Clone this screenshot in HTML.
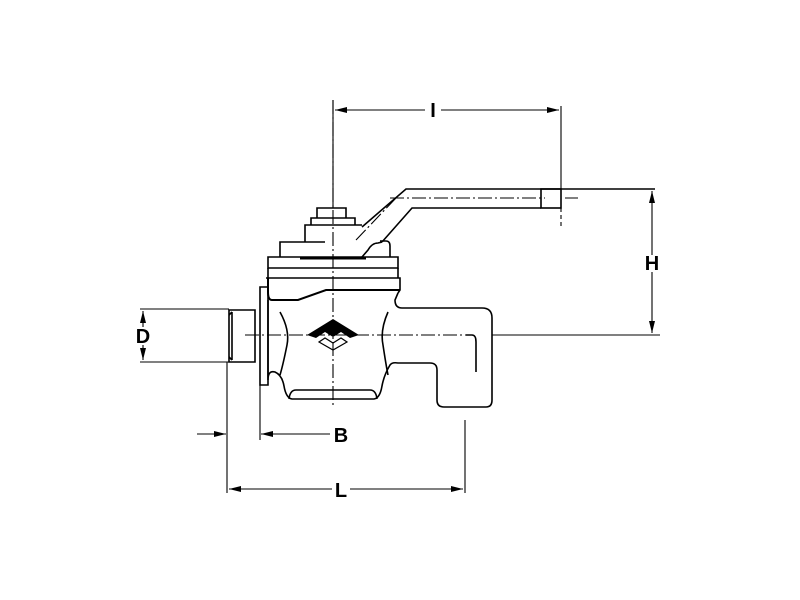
<!DOCTYPE html>
<html><head><style>body{margin:0;background:#fff}svg{display:block}</style></head><body>
<svg width="800" height="600" viewBox="0 0 800 600" xmlns="http://www.w3.org/2000/svg" font-family="Liberation Sans, sans-serif" font-weight="bold">
<defs>
<marker id="a" markerWidth="12" markerHeight="8" refX="12" refY="4" orient="auto" markerUnits="userSpaceOnUse"><path d="M0,1 L12,4 L0,7 Z" fill="#000"/></marker>
</defs>
<g fill="none" stroke="#000" stroke-width="1.6">
<path d="M333,100 V405" stroke-dasharray="14,3,2,3" stroke-width="1.1"/>
<path d="M245,335 H466" stroke-dasharray="14,3,2,3" stroke-width="1.1"/>
<path d="M390,198 L545,198 M565,198 H578" stroke-dasharray="14,3,2,3" stroke-width="1.1"/>
<path d="M396,198 L356,240" stroke-dasharray="14,3,2,3" stroke-width="1.1"/>
<path d="M317,218 V208 H346 V218"/>
<path d="M311,225 V218 H355 V225"/>
<path d="M305,242 V225 H362"/>
<path d="M280,257 V242 H325"/>
<path d="M362,227 L406,189 H655"/>
<path d="M382,242 L412,208 H541"/>
<rect x="541" y="189" width="20" height="19"/>
<path d="M362,257 L368,250 Q372,243 378,243 L382,242"/>
<path d="M380,241 H386 Q390,241 390,246 V257"/>
<path d="M268,257 H398 V268 H268 Z"/>
<path d="M300,258 H366" stroke-width="3"/>
<path d="M268,268 V278 M398,268 V278"/>
<path d="M266,278 H400 V290 L398,293"/>
<path d="M268,278 V292 Q268,300 272,300 L298,300 L326,290 H400" stroke-width="2"/>
<path d="M268,300 V380 Q268,370 275,372 Q282,375 284,386 Q286,398 292,399 L374,399 Q380,398 382,386 Q384,375 390,365 Q392,362 398,363 H430 Q437,363 437,370 V400 Q437,407 444,407 H486 Q492,407 492,400 V318 Q492,308 482,308 H402 Q395,308 395,300 L398,293"/>
<path d="M289,399 Q290,390 296,390 H370 Q376,390 377,399"/>
<path d="M280,312 Q290,330 287,345 Q283,365 280,375"/>
<path d="M388,312 Q380,330 383,345 Q386,365 388,375"/>
<path d="M466,335 H472 Q476,335 476,342 V372"/>
<path d="M260,287 H268 V385 H260 Z"/>
<path d="M229,310 H255 V362 H229 Z"/>
<path d="M232,312 V360 M229,315 L232,312 M229,357 L232,360"/>
<path d="M333,100 V208" stroke-width="1.1"/>
<path d="M561,106 V189" stroke-width="1.1"/>
<path d="M561,208 V228" stroke-dasharray="4,3" stroke-width="1.1"/>
<path d="M492,335 H660" stroke-width="1.1"/>
<path d="M140,309 H229 M140,362 H229" stroke-width="1.1"/>
<path d="M227,362 V493 M260,385 V440 M465,420 V493" stroke-width="1.1"/>
<path d="M425,110 H335" marker-end="url(#a)" stroke-width="1.1"/>
<path d="M441,110 H559" marker-end="url(#a)" stroke-width="1.1"/>
<path d="M652,255 V191" marker-end="url(#a)" stroke-width="1.1"/>
<path d="M652,272 V333" marker-end="url(#a)" stroke-width="1.1"/>
<path d="M143,327 V311" marker-end="url(#a)" stroke-width="1.1"/>
<path d="M143,345 V360" marker-end="url(#a)" stroke-width="1.1"/>
<path d="M197,434 H226" marker-end="url(#a)" stroke-width="1.1"/>
<path d="M330,434 H261" marker-end="url(#a)" stroke-width="1.1"/>
<path d="M332,489 H229" marker-end="url(#a)" stroke-width="1.1"/>
<path d="M350,489 H463" marker-end="url(#a)" stroke-width="1.1"/>
</g>
<path d="M307,335 L333,319 L359,335 L350,338 L341,332 L333,337 L325,332 L316,338 Z" fill="#000"/>
<path d="M319,342 L333,350 L347,342 L341,338 L333,343 L325,338 Z" fill="none" stroke="#000" stroke-width="1.2"/>
<text x="433" y="117" font-size="20" text-anchor="middle">I</text>
<text x="652" y="270" font-size="20" text-anchor="middle">H</text>
<text x="143" y="343" font-size="20" text-anchor="middle">D</text>
<text x="341" y="442" font-size="20" text-anchor="middle">B</text>
<text x="341" y="497" font-size="20" text-anchor="middle">L</text>
</svg>
</body></html>
